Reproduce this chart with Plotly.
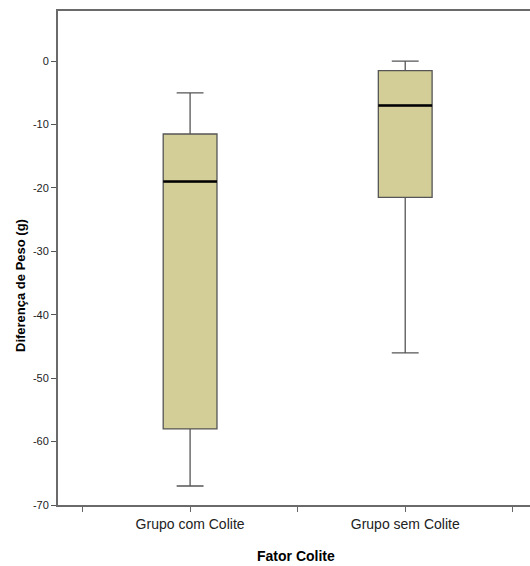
import plotly.graph_objects as go

categories = ["Grupo com Colite", "Grupo sem Colite"]
lower_whisker = [-67.0, -46.0]
q1 = [-58.0, -21.5]
median = [-19.0, -7.0]
q3 = [-11.5, -1.5]
upper_whisker = [-5.0, 0.0]
y_ticks = [0, -10, -20, -30, -40, -50, -60, -70]
y_tick_labels = ["0", "-10", "-20", "-30", "-40", "-50", "-60", "-70"]

pos = list(range(len(categories)))
box_w = 0.25

fig = go.Figure()
fig.add_trace(go.Box(
    x=pos, q1=q1, median=median, q3=q3,
    lowerfence=lower_whisker, upperfence=upper_whisker,
    width=box_w, whiskerwidth=0.5,
    fillcolor="#D3CE97",
    line=dict(color="#555555", width=1.3),
    boxpoints=False, hoverinfo="skip", showlegend=False,
))
for i, m in zip(pos, median):
    fig.add_trace(go.Scatter(
        x=[i - box_w / 2, i + box_w / 2], y=[m, m], mode="lines",
        line=dict(color="#000000", width=2.5), showlegend=False, hoverinfo="skip",
    ))

tickvals = [-0.5, 0, 0.5, 1, 1.5]
ticktext = ["", categories[0], "", categories[1], ""]

font_main = "Liberation Sans, Arial, sans-serif"

W, H = 530, 566
ml, mt, mb, mr = 58, 11, 61, 0
pw, ph = W - ml - mr, H - mt - mb

def px_to_paper(px, py):
    return (px - ml) / pw, (H - mb - py) / ph

ytx, yty = px_to_paper(20, 286)
xtx, xty = px_to_paper(296, 556)

fig.update_layout(
    width=W, height=H,
    margin=dict(l=ml, r=mr, t=mt, b=mb, autoexpand=False),
    paper_bgcolor="white", plot_bgcolor="white",
    xaxis=dict(
        range=[-0.614, 1.58], tickvals=tickvals, ticktext=ticktext,
        showgrid=False, zeroline=False, showline=True, mirror=True,
        linecolor="#6a6a6a", linewidth=2,
        ticks="outside", ticklen=5, tickcolor="#666666",
        tickfont=dict(family=font_main, size=14, color="#222222"),
    ),
    yaxis=dict(
        range=[-70, 7.9], tickvals=y_ticks, ticktext=y_tick_labels,
        showgrid=False, zeroline=False, showline=True,
        linecolor="#6a6a6a", linewidth=2,
        ticks="outside", ticklen=5, tickcolor="#555555",
        tickfont=dict(family=font_main, size=11, color="#222222"),
    ),
    annotations=[
        dict(text="<b>Diferença de Peso (g)</b>", x=ytx, y=yty, xref="paper", yref="paper",
             xanchor="center", yanchor="middle",
             showarrow=False, textangle=-90, font=dict(family=font_main, size=13, color="#000")),
        dict(text="<b>Fator Colite</b>", x=xtx, y=xty, xref="paper", yref="paper",
             xanchor="center", yanchor="middle",
             showarrow=False, font=dict(family=font_main, size=14, color="#000")),
    ],
)

fig.write_html(
    "out.html",
    config={"displayModeBar": False},
    post_script="document.body.style.margin='0';document.body.style.overflow='hidden';",
)
